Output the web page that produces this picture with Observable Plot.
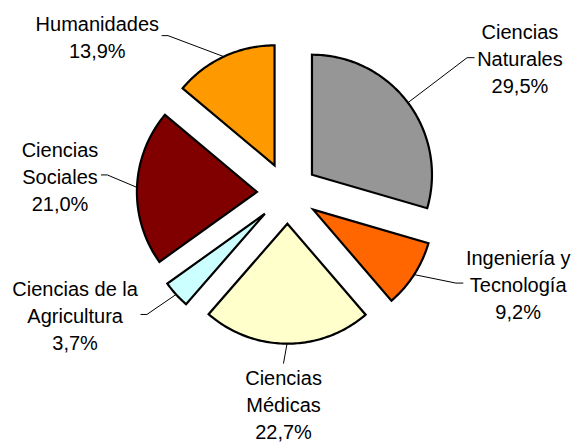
<!DOCTYPE html>
<html>
<head>
<meta charset="utf-8">
<script src="https://cdn.jsdelivr.net/npm/d3@7"></script>
<script src="https://cdn.jsdelivr.net/npm/@observablehq/plot@0.6"></script>
<style>
  html, body { margin: 0; padding: 0; background: #fff; }
  #chart svg { display: block; }
</style>
</head>
<body>
<div id="chart"></div>
<script>
// ---- data ----
const categories = ["Ciencias Naturales", "Ingeniería y Tecnología", "Ciencias Médicas", "Ciencias de la Agricultura", "Ciencias Sociales", "Humanidades"];
const labelNames = ["Ciencias\nNaturales", "Ingeniería y\nTecnología", "Ciencias\nMédicas", "Ciencias de la\nAgricultura", "Ciencias\nSociales", "Humanidades"];
const shares = [29.5, 9.2, 22.7, 3.7, 21.0, 13.9];

// ---- style / layout ----
const colors = ["#969696", "#FF6600", "#FFFFCC", "#CCFFFF", "#800000", "#FF9900"];
// label block offsets (px) from each slice's outer arc midpoint
const labelOffsetX = [112, 104, -3.5, -101, -77, -126.5];
const labelOffsetY = [-45, 8.5, 59.5, 20, -12.5, -21];
const W = 574, H = 443;
const R = 120, cx = 287, cy = 192.6, explodePx = 30.6;
const FONT = 20, LINE = 27;

const ctx = document.createElement("canvas").getContext("2d");
ctx.font = `${FONT}px 'Liberation Sans', Arial, sans-serif`;
const blockWidth = t => Math.max(...t.split("\n").map(s => ctx.measureText(s).width));
const toData = (px, py) => [(px - cx) / R, (cy - py) / R];
const fmt = v => v.toFixed(1).replace(".", ",") + "%";

const total = d3.sum(shares);
const slices = [], labels = [], leaders = [];
let cum = 0;
shares.forEach((v, i) => {
  const a0 = cum / total * 2 * Math.PI;
  cum += v;
  const a1 = cum / total * 2 * Math.PI;
  const b = (a0 + a1) / 2;
  const e = explodePx / R;
  const ox = e * Math.sin(b), oy = e * Math.cos(b);
  const name = categories[i];
  slices.push({name, x: ox, y: oy});
  const n = Math.max(2, Math.ceil((a1 - a0) / (Math.PI / 180)));
  for (let k = 0; k <= n; k++) {
    const a = a0 + (a1 - a0) * k / n;
    slices.push({name, x: ox + Math.sin(a), y: oy + Math.cos(a)});
  }
  // arc midpoint in px
  const mx = cx + (ox + Math.sin(b)) * R, my = cy - (oy + Math.cos(b)) * R;
  const bx = mx + labelOffsetX[i], by = my + labelOffsetY[i];
  const text = labelNames[i] + "\n" + fmt(v);
  const [tx, ty] = toData(bx, by);
  labels.push({text, x: tx, y: ty});
  const w = blockWidth(text);
  let pts;
  if (labelOffsetX[i] > 30) {
    const hx = bx - w / 2 - 3;
    pts = [[mx, my], [hx - 7, by], [hx, by]];
  } else if (labelOffsetX[i] < -30) {
    const hx = bx + w / 2 + 3;
    pts = [[mx, my], [hx + 6, by], [hx, by]];
  } else {
    pts = [[mx, my], [bx, by - 40]];
  }
  pts.forEach(([px, py]) => { const [x, y] = toData(px, py); leaders.push({name, x, y}); });
});

const chart = Plot.plot({
  width: W, height: H,
  margin: 0,
  x: {domain: [-cx / R, (W - cx) / R], range: [0, W], axis: null},
  y: {domain: [(cy - H) / R, cy / R], range: [H, 0], axis: null},
  color: {domain: categories, range: colors},
  style: {background: "#fff"},
  marks: [
    Plot.line(leaders, {x: "x", y: "y", z: "name", stroke: "#000", strokeWidth: 1}),
    Plot.line(slices, {x: "x", y: "y", z: "name", fill: "name", stroke: "#000", strokeWidth: 2.2,
      curve: "linear-closed", strokeLinejoin: "miter", strokeMiterlimit: 4}),
    Plot.text(labels, {x: "x", y: "y", text: "text", fontSize: FONT, lineHeight: LINE / FONT,
      fontFamily: "'Liberation Sans', Arial, sans-serif", fill: "#000", textAnchor: "middle", lineAnchor: "middle"})
  ]
});
document.getElementById("chart").appendChild(chart);
</script>
</body>
</html>
